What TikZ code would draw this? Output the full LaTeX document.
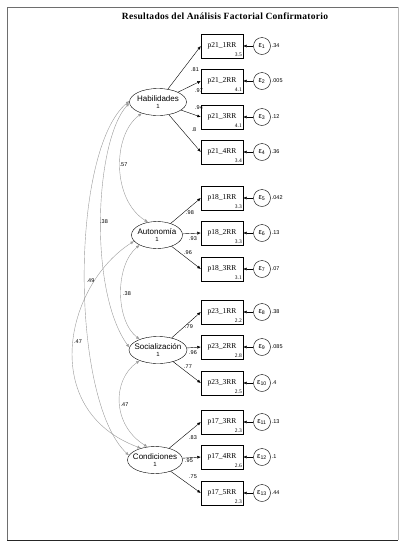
\documentclass[tikz,border=0pt]{standalone}
\usepackage{fontspec}
\setmainfont{Liberation Serif}
\setsansfont{Liberation Sans}
\usetikzlibrary{arrows.meta,shapes.geometric}
\definecolor{PathGray}{HTML}{9A9A9A}
\definecolor{FrameGray}{HTML}{6E6E6E}

\begin{document}
\begin{tikzpicture}[x=1pt,y=-1pt,
  latent/.style={ellipse, draw, thin, minimum height=27pt, inner sep=0pt,
                 align=center, font=\sffamily\fontsize{8}{8.5}\selectfont},
  observed/.style={draw, thin, minimum width=42pt, minimum height=24pt,
                   inner sep=0pt, font=\fontsize{7.5}{8}\selectfont},
  mean/.style={anchor=south east, inner sep=1.2pt, font=\fontsize{5.5}{6}\selectfont},
  error/.style={circle, draw, thin, minimum size=17pt, inner sep=0pt,
                font=\sffamily\fontsize{7.5}{8}\selectfont},
  coef/.style={inner sep=0pt, font=\sffamily\fontsize{5.5}{6}\selectfont},
  load/.style={-{Latex[length=3.5pt,width=3pt]}, thin, draw=black},
  cov/.style={{Latex[length=3.5pt,width=3pt]}-{Latex[length=3.5pt,width=3pt]},
              thin, draw=PathGray}
]
\useasboundingbox (0,0) rectangle (402,547);
% frame
\draw[FrameGray] (7,540) -- (7,7) -- (398,7);
\draw[gray!55] (398,7) -- (398,540);
\draw[black!85] (7,540) -- (398,540);

\node[font=\bfseries\fontsize{9.5}{10}\selectfont\addfontfeatures{LetterSpace=3}] (title) at (225,16)
  {Resultados del Análisis Factorial Confirmatorio};

% latent factors
\node[latent, minimum width=57pt] (hab) at (158,102)
  {\makebox[0pt]{Habilidades}\\[-1.5pt]\makebox[0pt]{\fontsize{6}{6}\selectfont 1}};
\node[latent, minimum width=51pt] (aut) at (157,235)
  {\makebox[0pt]{Autonomía}\\[-1.5pt]\makebox[0pt]{\fontsize{6}{6}\selectfont 1}};
\node[latent, minimum width=58pt] (soc) at (158,350)
  {\makebox[0pt]{Socialización}\\[-1.5pt]\makebox[0pt]{\fontsize{6}{6}\selectfont 1}};
\node[latent, minimum width=55pt] (con) at (155,460)
  {\makebox[0pt]{Condiciones}\\[-1.5pt]\makebox[0pt]{\fontsize{6}{6}\selectfont 1}};

% observed items
\node[observed, label={[mean]south east:3.5}] (b1) at (222,46) {\raisebox{1.5pt}{p21\_1RR}};
\node[observed, label={[mean]south east:4.1}] (b2) at (222,81) {\raisebox{1.5pt}{p21\_2RR}};
\node[observed, label={[mean]south east:4.1}] (b3) at (222,117) {\raisebox{1.5pt}{p21\_3RR}};
\node[observed, label={[mean]south east:3.4}] (b4) at (222,152) {\raisebox{1.5pt}{p21\_4RR}};
\node[observed, label={[mean]south east:3.3}] (b5) at (222,198) {\raisebox{1.5pt}{p18\_1RR}};
\node[observed, label={[mean]south east:3.3}] (b6) at (222,233) {\raisebox{1.5pt}{p18\_2RR}};
\node[observed, label={[mean]south east:3.1}] (b7) at (222,269) {\raisebox{1.5pt}{p18\_3RR}};
\node[observed, label={[mean]south east:2.2}] (b8) at (222,312) {\raisebox{1.5pt}{p23\_1RR}};
\node[observed, label={[mean]south east:2.8}] (b9) at (222,347) {\raisebox{1.5pt}{p23\_2RR}};
\node[observed, label={[mean]south east:2.5}] (b10) at (222,383) {\raisebox{1.5pt}{p23\_3RR}};
\node[observed, label={[mean]south east:2.3}] (b11) at (222,422) {\raisebox{1.5pt}{p17\_3RR}};
\node[observed, label={[mean]south east:2.6}] (b12) at (222,457) {\raisebox{1.5pt}{p17\_4RR}};
\node[observed, label={[mean]south east:2.3}] (b13) at (222,493) {\raisebox{1.5pt}{p17\_5RR}};

% error terms
\node[error] (e1) at (262,46) {ε\textsubscript{1}};
\node[error] (e2) at (262,81) {ε\textsubscript{2}};
\node[error] (e3) at (262,117) {ε\textsubscript{3}};
\node[error] (e4) at (262,152) {ε\textsubscript{4}};
\node[error] (e5) at (262,198) {ε\textsubscript{5}};
\node[error] (e6) at (262,233) {ε\textsubscript{6}};
\node[error] (e7) at (262,269) {ε\textsubscript{7}};
\node[error] (e8) at (262,312) {ε\textsubscript{8}};
\node[error] (e9) at (262,347) {ε\textsubscript{9}};
\node[error] (e10) at (262,383) {ε\textsubscript{10}};
\node[error] (e11) at (262,422) {ε\textsubscript{11}};
\node[error] (e12) at (262,457) {ε\textsubscript{12}};
\node[error] (e13) at (262,493) {ε\textsubscript{13}};

% error variances
\node[coef, anchor=west] (v1) at ([xshift=1pt]e1.east) {.34};
\node[coef, anchor=west] (v2) at ([xshift=1pt]e2.east) {.005};
\node[coef, anchor=west] (v3) at ([xshift=1pt]e3.east) {.12};
\node[coef, anchor=west] (v4) at ([xshift=1pt]e4.east) {.36};
\node[coef, anchor=west] (v5) at ([xshift=1pt]e5.east) {.042};
\node[coef, anchor=west] (v6) at ([xshift=1pt]e6.east) {.13};
\node[coef, anchor=west] (v7) at ([xshift=1pt]e7.east) {.07};
\node[coef, anchor=west] (v8) at ([xshift=1pt]e8.east) {.38};
\node[coef, anchor=west] (v9) at ([xshift=1pt]e9.east) {.085};
\node[coef, anchor=west] (v10) at ([xshift=1pt]e10.east) {.4};
\node[coef, anchor=west] (v11) at ([xshift=1pt]e11.east) {.13};
\node[coef, anchor=west] (v12) at ([xshift=1pt]e12.east) {.1};
\node[coef, anchor=west] (v13) at ([xshift=1pt]e13.east) {.44};

% loadings
\draw[load] (hab) -- (b1.west);
\draw[load] (hab) -- (b2.west);
\draw[load] (hab) -- (b3.west);
\draw[load] (hab) -- (b4.west);
\draw[load] (aut) -- (b5.west);
\draw[load] (aut) -- (b6.west);
\draw[load] (aut) -- (b7.west);
\draw[load] (soc) -- (b8.west);
\draw[load] (soc) -- (b9.west);
\draw[load] (soc) -- (b10.west);
\draw[load] (con) -- (b11.west);
\draw[load] (con) -- (b12.west);
\draw[load] (con) -- (b13.west);

\node[coef] (l1) at (195,70) {.81};
\node[coef] (l2) at (199,91) {.97};
\node[coef] (l3) at (199,108) {.94};
\node[coef] (l4) at (194,130) {.8};
\node[coef] (l5) at (190,213) {.98};
\node[coef] (l6) at (193,239) {.93};
\node[coef] (l7) at (188,253) {.96};
\node[coef] (l8) at (189,327) {.79};
\node[coef] (l9) at (193,353) {.96};
\node[coef] (l10) at (188,367) {.77};
\node[coef] (l11) at (193,438) {.83};
\node[coef] (l12) at (189,461) {.95};
\node[coef] (l13) at (193,477) {.75};

% error paths
\draw[load] (e1) -- (b1);
\draw[load] (e2) -- (b2);
\draw[load] (e3) -- (b3);
\draw[load] (e4) -- (b4);
\draw[load] (e5) -- (b5);
\draw[load] (e6) -- (b6);
\draw[load] (e7) -- (b7);
\draw[load] (e8) -- (b8);
\draw[load] (e9) -- (b9);
\draw[load] (e10) -- (b10);
\draw[load] (e11) -- (b11);
\draw[load] (e12) -- (b12);
\draw[load] (e13) -- (b13);

% covariances
\draw[cov] (hab.215) .. controls (112,135) and (112,200) .. (aut.125);
\draw[cov] (hab.182) .. controls (95,140) and (88,290) .. (soc.175);
\draw[cov] (hab.178) .. controls (70,150) and (70,400) .. (con.170);
\draw[cov] (aut.210) .. controls (115,265) and (115,320) .. (soc.150);
\draw[cov] (aut.195) .. controls (65,285) and (38,410) .. (con.140);
\draw[cov] (soc.210) .. controls (112,380) and (112,425) .. (con.120);

\node[coef] (c1) at (123.5,165) {.57};
\node[coef] (c2) at (104,222) {.38};
\node[coef] (c3) at (90.5,281) {.49};
\node[coef] (c4) at (127,294) {.38};
\node[coef] (c5) at (78,342) {.47};
\node[coef] (c6) at (124.5,405) {.47};
\end{tikzpicture}
\end{document}
